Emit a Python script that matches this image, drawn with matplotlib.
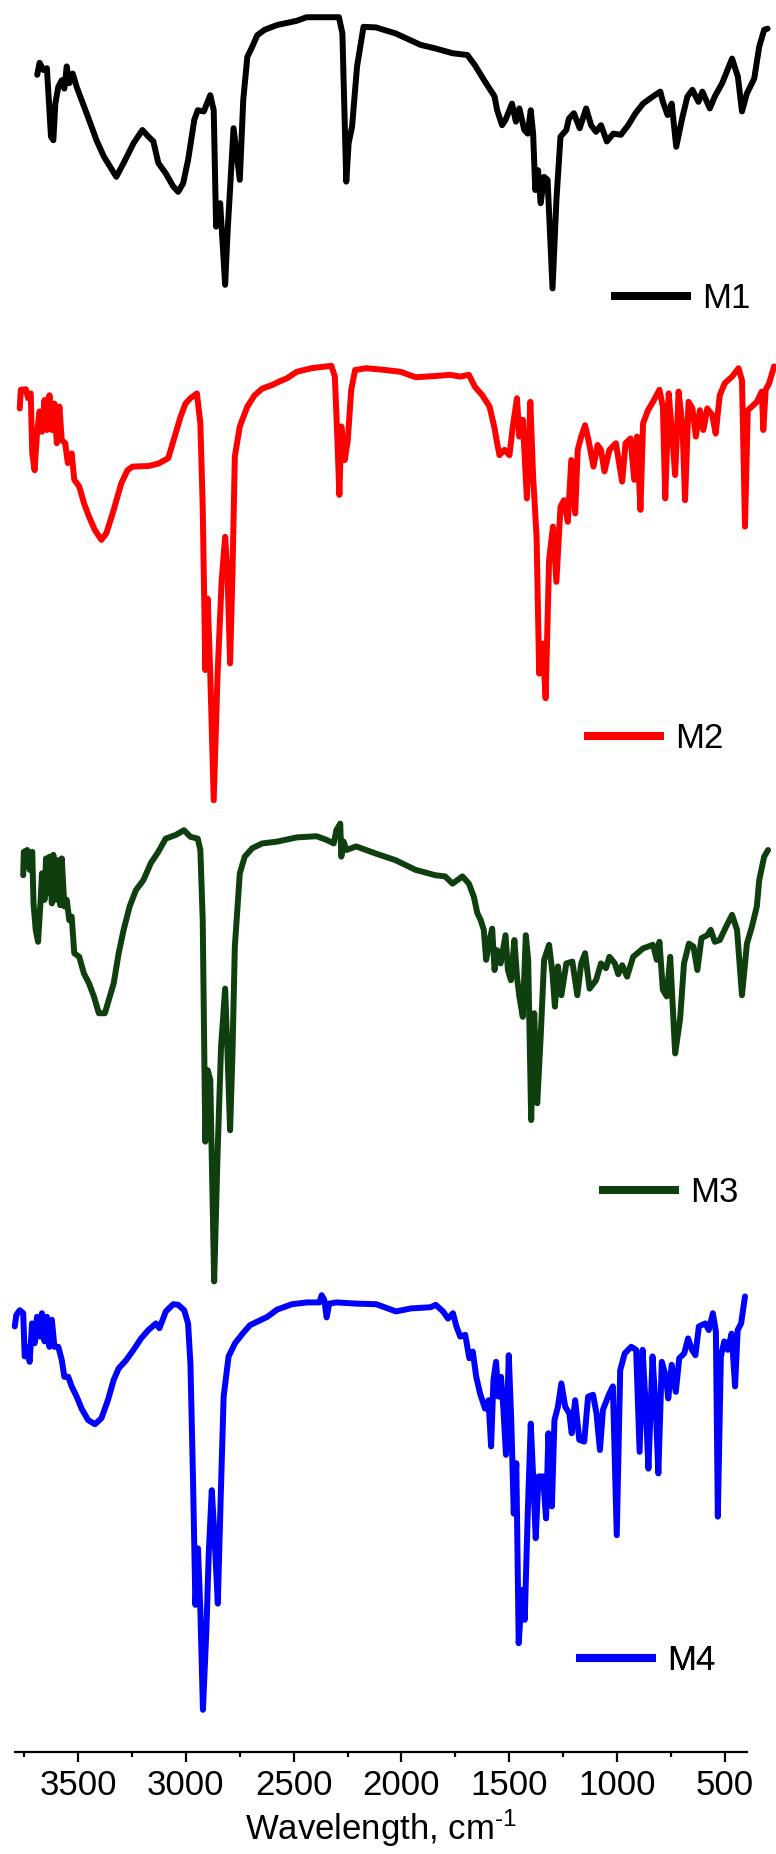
import numpy as np
import matplotlib
matplotlib.use('Agg')
import matplotlib.pyplot as plt
from matplotlib.ticker import MultipleLocator

plt.rcParams['font.family'] = ['Liberation Sans', 'DejaVu Sans']
plt.rcParams['mathtext.default'] = 'regular'

# IR spectra, wavenumber (cm-1) and transmittance (%)
m1_wn = [3690, 3679, 3661, 3645, 3626, 3615, 3606, 3592, 3576, 3564,
         3553, 3541, 3525, 3507, 3484, 3461, 3438, 3415, 3381, 3323,
         3289, 3243, 3202, 3174, 3151, 3128, 3094, 3059, 3036, 3013,
         2990, 2961, 2945, 2917, 2887, 2871, 2860, 2841, 2818, 2807,
         2779, 2750, 2734, 2715, 2692, 2669, 2635, 2577, 2486, 2440,
         2290, 2274, 2256, 2245, 2229, 2206, 2176, 2118, 2027, 1912,
         1843, 1763, 1694, 1659, 1613, 1568, 1556, 1533, 1517, 1487,
         1469, 1453, 1430, 1414, 1400, 1389, 1379, 1366, 1354, 1338,
         1322, 1299, 1281, 1262, 1235, 1223, 1200, 1173, 1143, 1120,
         1097, 1074, 1047, 1017, 982, 948, 914, 879, 833, 799,
         787, 765, 746, 725, 696, 673, 650, 622, 604, 569,
         546, 512, 466, 439, 420, 397, 363, 340, 317, 301]
m1_t = [85.7, 87.7, 86.5, 86.8, 75.4, 74.8, 80.9, 83.7, 84.8, 83.4,
        87.1, 84.3, 85.9, 83.7, 81.5, 79.3, 77.1, 74.8, 72.1, 68.7,
        71.0, 74.3, 76.5, 75.4, 74.6, 71.0, 69.3, 67.1, 66.2, 67.6,
        71.5, 78.2, 79.8, 79.6, 82.3, 79.8, 60.4, 64.3, 50.7, 59.3,
        76.8, 68.2, 81.5, 88.7, 90.4, 92.3, 93.2, 94.0, 94.7, 95.3,
        95.3, 92.6, 67.9, 74.3, 77.1, 87.1, 93.7, 93.6, 92.6, 90.7,
        90.1, 89.3, 89.0, 87.3, 84.6, 82.1, 79.8, 77.3, 78.2, 80.9,
        77.9, 80.1, 76.5, 75.9, 79.8, 75.9, 66.5, 69.8, 64.3, 68.7,
        68.2, 50.1, 64.8, 75.4, 76.5, 78.4, 79.3, 76.8, 80.1, 77.3,
        76.2, 77.3, 74.6, 75.9, 75.7, 77.3, 79.3, 80.9, 82.1, 82.9,
        81.2, 79.0, 80.9, 73.7, 78.7, 82.1, 83.2, 81.2, 82.9, 80.1,
        82.1, 84.3, 88.4, 85.4, 79.6, 82.6, 85.1, 90.4, 93.2, 93.4]

m2_wn = [3771, 3766, 3743, 3732, 3720, 3713, 3702, 3691, 3679, 3668,
         3656, 3645, 3633, 3622, 3610, 3599, 3587, 3576, 3560, 3548,
         3530, 3518, 3495, 3473, 3450, 3422, 3392, 3369, 3335, 3300,
         3271, 3248, 3174, 3128, 3082, 3048, 3025, 3002, 2979, 2949,
         2933, 2922, 2910, 2899, 2887, 2871, 2853, 2834, 2818, 2807,
         2795, 2784, 2773, 2750, 2715, 2681, 2646, 2600, 2566, 2532,
         2486, 2417, 2325, 2309, 2297, 2288, 2279, 2263, 2249, 2233,
         2215, 2164, 2073, 2004, 1935, 1843, 1774, 1728, 1687, 1659,
         1625, 1591, 1568, 1556, 1545, 1522, 1499, 1483, 1464, 1453,
         1437, 1418, 1402, 1389, 1373, 1361, 1345, 1331, 1315, 1297,
         1281, 1262, 1246, 1228, 1212, 1194, 1182, 1166, 1148, 1132,
         1109, 1090, 1074, 1058, 1035, 1005, 976, 960, 937, 920,
         907, 891, 879, 856, 833, 803, 787, 776, 760, 741,
         730, 714, 696, 684, 668, 650, 634, 615, 599, 581,
         558, 542, 523, 500, 466, 436, 420, 406, 393, 374,
         351, 328, 321, 310, 294, 271]
m2_t = [90.1, 93.2, 93.3, 91.8, 92.6, 82.6, 79.8, 85.9, 89.6, 86.2,
        91.5, 86.5, 92.3, 86.5, 90.9, 84.3, 90.4, 84.8, 84.3, 81.0,
        82.6, 78.2, 77.1, 74.3, 72.1, 69.8, 68.2, 69.3, 73.2, 77.6,
        79.8, 80.4, 80.5, 80.9, 81.8, 85.9, 88.7, 90.9, 91.8, 92.6,
        87.6, 73.7, 46.5, 58.4, 45.9, 24.8, 45.9, 61.5, 68.7, 62.6,
        47.6, 62.6, 82.1, 87.1, 90.4, 92.3, 93.4, 94.0, 94.6, 95.1,
        96.2, 96.8, 97.2, 95.4, 84.8, 75.7, 87.1, 81.5, 84.8, 93.2,
        96.5, 96.8, 96.5, 96.2, 95.3, 95.5, 95.7, 95.4, 95.7, 93.7,
        92.3, 90.4, 86.8, 84.3, 82.3, 83.2, 82.3, 87.1, 91.8, 85.4,
        88.2, 75.1, 91.2, 78.7, 68.7, 45.9, 50.9, 41.8, 64.8, 70.4,
        61.2, 73.7, 74.8, 71.2, 81.5, 72.6, 83.2, 85.4, 87.3, 84.8,
        80.4, 84.0, 83.2, 79.6, 83.2, 84.3, 77.9, 84.3, 85.1, 78.2,
        85.4, 73.2, 87.6, 89.8, 91.2, 93.2, 90.4, 75.1, 92.6, 84.3,
        79.0, 92.9, 87.1, 74.8, 91.2, 90.1, 85.4, 89.8, 86.5, 90.1,
        89.0, 85.9, 92.3, 94.3, 95.4, 96.8, 94.8, 70.4, 89.8, 90.4,
        91.2, 92.9, 86.5, 93.2, 94.3, 97.1]

m3_wn = [3755, 3752, 3736, 3725, 3713, 3707, 3697, 3686, 3674, 3668,
         3656, 3649, 3640, 3633, 3622, 3615, 3603, 3594, 3583, 3576,
         3564, 3553, 3541, 3530, 3518, 3495, 3473, 3450, 3427, 3404,
         3376, 3358, 3335, 3312, 3289, 3261, 3232, 3197, 3163, 3128,
         3094, 3048, 3009, 2979, 2945, 2933, 2922, 2910, 2899, 2887,
         2869, 2853, 2837, 2818, 2807, 2795, 2784, 2773, 2750, 2727,
         2692, 2646, 2577, 2486, 2394, 2348, 2314, 2302, 2284, 2279,
         2268, 2256, 2210, 2118, 2027, 1935, 1843, 1797, 1763, 1717,
         1687, 1664, 1648, 1632, 1618, 1607, 1591, 1579, 1568, 1556,
         1540, 1517, 1506, 1492, 1476, 1464, 1453, 1437, 1423, 1412,
         1398, 1384, 1370, 1354, 1338, 1315, 1299, 1288, 1274, 1258,
         1235, 1207, 1184, 1166, 1148, 1127, 1097, 1074, 1051, 1035,
         1010, 994, 976, 953, 925, 879, 833, 815, 803, 787,
         769, 753, 730, 707, 689, 666, 645, 627, 608, 581,
         565, 546, 523, 494, 466, 443, 420, 397, 374, 351,
         340, 317, 299]
m3_t = [87.3, 91.2, 91.5, 88.2, 91.2, 82.6, 78.2, 76.2, 83.2, 87.6,
        83.2, 90.1, 84.3, 90.4, 82.6, 90.7, 83.2, 89.8, 82.3, 90.1,
        82.1, 83.2, 79.8, 80.4, 74.3, 73.7, 70.9, 69.3, 67.1, 64.3,
        64.3, 66.5, 69.3, 74.3, 78.2, 82.1, 84.8, 86.5, 89.3, 91.2,
        93.4, 94.0, 94.8, 93.7, 93.4, 91.5, 79.8, 42.9, 54.8, 53.2,
        19.6, 41.0, 58.7, 68.4, 57.6, 44.8, 57.6, 75.4, 87.6, 90.4,
        91.8, 92.6, 92.9, 93.6, 93.8, 93.2, 92.6, 94.8, 95.9, 90.4,
        92.9, 91.5, 92.1, 90.9, 89.8, 88.2, 87.3, 87.1, 85.9, 87.1,
        85.9, 83.7, 81.0, 79.8, 78.2, 73.2, 76.5, 78.4, 71.5, 74.8,
        72.6, 77.3, 71.5, 69.8, 76.5, 70.4, 67.1, 63.7, 77.3, 73.2,
        46.5, 64.3, 49.3, 60.4, 73.2, 75.7, 70.9, 65.4, 72.1, 67.3,
        72.6, 72.9, 67.3, 72.6, 74.3, 68.4, 69.8, 72.6, 71.8, 73.7,
        72.6, 70.8, 72.3, 70.4, 73.7, 75.1, 75.7, 73.2, 76.2, 68.2,
        67.1, 73.7, 57.6, 63.4, 72.6, 75.9, 75.4, 71.5, 76.8, 77.3,
        78.2, 76.2, 76.5, 78.7, 80.7, 78.2, 67.3, 75.9, 78.7, 82.1,
        86.5, 90.4, 91.5]

m4_wn = [3794, 3787, 3771, 3755, 3748, 3737, 3725, 3714, 3702, 3691,
         3679, 3668, 3656, 3645, 3633, 3622, 3610, 3592, 3576, 3564,
         3546, 3530, 3507, 3484, 3454, 3422, 3392, 3362, 3335, 3312,
         3277, 3243, 3208, 3174, 3139, 3123, 3093, 3059, 3036, 3008,
         2990, 2979, 2967, 2956, 2944, 2933, 2921, 2905, 2894, 2880,
         2868, 2852, 2838, 2825, 2802, 2772, 2737, 2703, 2668, 2622,
         2577, 2508, 2439, 2381, 2370, 2358, 2347, 2335, 2301, 2209,
         2117, 2025, 1956, 1864, 1841, 1807, 1784, 1761, 1745, 1727,
         1704, 1685, 1669, 1653, 1635, 1612, 1596, 1584, 1573, 1561,
         1550, 1538, 1527, 1515, 1502, 1490, 1479, 1467, 1456, 1440,
         1428, 1414, 1400, 1389, 1377, 1364, 1343, 1329, 1318, 1302,
         1290, 1274, 1258, 1240, 1221, 1210, 1194, 1175, 1152, 1134,
         1111, 1095, 1079, 1065, 1038, 1019, 1001, 985, 964, 934,
         911, 895, 881, 865, 854, 835, 819, 808, 792, 773,
         762, 746, 727, 711, 688, 670, 652, 636, 620, 590,
         574, 555, 541, 532, 518, 502, 486, 468, 452, 440,
         424, 406]
m4_t = [87.1, 89.0, 89.8, 89.3, 82.1, 83.7, 81.2, 87.6, 84.3, 88.7,
        85.4, 89.3, 84.6, 88.7, 83.7, 88.2, 83.7, 83.7, 81.5, 78.7,
        78.7, 77.1, 75.4, 73.4, 71.5, 70.8, 71.8, 74.8, 78.2, 80.1,
        81.5, 83.2, 85.1, 86.5, 87.6, 86.8, 89.6, 90.8, 90.7, 89.8,
        87.6, 80.9, 61.5, 40.7, 50.1, 39.8, 23.2, 36.5, 49.3, 59.8,
        52.6, 40.9, 59.3, 75.4, 82.1, 84.3, 85.9, 87.3, 87.9, 88.7,
        89.9, 90.8, 91.1, 91.1, 92.3, 91.5, 88.6, 90.9, 91.1, 90.9,
        90.8, 89.6, 90.1, 90.3, 90.7, 89.6, 88.4, 89.3, 87.1, 85.4,
        85.7, 81.8, 82.9, 78.7, 75.9, 73.4, 74.8, 67.1, 78.2, 81.2,
        75.4, 78.7, 73.4, 65.7, 82.3, 70.9, 55.9, 64.3, 34.3, 43.2,
        38.2, 55.9, 70.9, 62.1, 51.8, 62.1, 62.1, 55.1, 69.3, 57.1,
        71.5, 73.7, 77.6, 73.7, 72.6, 69.3, 74.8, 68.2, 67.9, 75.4,
        75.7, 72.6, 66.5, 73.2, 75.7, 77.1, 52.3, 79.8, 82.6, 83.7,
        83.2, 66.2, 83.2, 72.6, 63.4, 82.1, 72.6, 62.6, 81.2, 78.7,
        75.1, 80.7, 76.2, 81.8, 82.6, 85.1, 83.2, 82.3, 87.1, 87.6,
        86.5, 89.3, 86.2, 55.4, 82.1, 84.6, 83.2, 85.9, 77.1, 86.5,
        87.6, 92.1]

labels = ['M1', 'M2', 'M3', 'M4']
spectra = [(m1_wn, m1_t), (m2_wn, m2_t), (m3_wn, m3_t), (m4_wn, m4_t)]
offsets = [210, 150, 75, 0]
colors = ['#000000', '#ff0000', '#0f3f0f', '#0000ff']
# legend anchor of each trace, figure pixels (left end of the sample line)
legend_pos = [(611, 299), (584, 739), (599, 1193), (576, 1661)]

W, H = 776, 1854
fig = plt.figure(figsize=(W / 100, H / 100), dpi=100)
ax = fig.add_axes([15 / W, 102 / H, 731.5 / W, 1752 / H])

lines = []
for (wn, t), off, c in zip(spectra, offsets, colors):
    ln, = ax.plot(wn, np.array(t) + off, color=c, lw=4.3,
                  solid_joinstyle='round', solid_capstyle='round', clip_on=False)
    lines.append(ln)

ax.set_xlim(3793, 399)
ax.set_ylim(16.17, 308.17)

for s in ['left', 'top', 'right']:
    ax.spines[s].set_visible(False)
ax.spines['bottom'].set_linewidth(1.6)
ax.set_yticks([])
ax.xaxis.set_major_locator(MultipleLocator(500))
ax.xaxis.set_minor_locator(MultipleLocator(250))
ax.tick_params(axis='x', which='major', direction='out', length=7.5, width=1.6,
               labelsize=25, pad=5)
ax.tick_params(axis='x', which='minor', direction='out', length=3.5, width=1.6)
# plain hyphen in the exponent, not a math minus
ax.set_xlabel('Wavelength, cm$^{\u2010 1}$', fontsize=25, labelpad=4)

for ln, lab, (px, py) in zip(lines, labels, legend_pos):
    leg = ax.legend([ln], [lab], loc='center left',
                    bbox_to_anchor=(px / W, 1 - py / H), bbox_transform=fig.transFigure,
                    frameon=False, fontsize=25, handlelength=2.3, handletextpad=0.33,
                    borderpad=0, borderaxespad=0)
    leg.get_lines()[0].set_linewidth(5.8)
    leg.get_lines()[0].set_solid_capstyle('butt')
    ax.add_artist(leg)

fig.savefig('out.png', dpi=100)
